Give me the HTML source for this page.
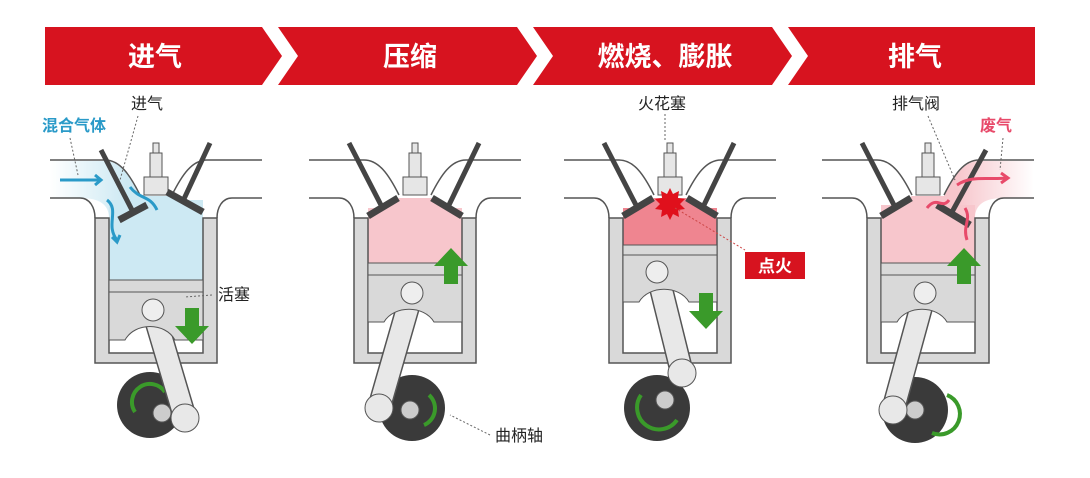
<!DOCTYPE html>
<html><head><meta charset="utf-8"><style>
html,body{margin:0;padding:0;background:#fff;}
svg{display:block;}
text{font-family:"Liberation Sans","Noto Sans CJK SC",sans-serif;}
</style></head><body>
<svg width="1090" height="478" viewBox="0 0 1090 478" xmlns="http://www.w3.org/2000/svg">
<defs>
<linearGradient id="bl" x1="0" x2="1"><stop offset="0" stop-color="#fff"/><stop offset="0.5" stop-color="#cde9f3"/></linearGradient>
<linearGradient id="pk" x1="1" x2="0"><stop offset="0" stop-color="#fff"/><stop offset="0.5" stop-color="#f7c6cc"/></linearGradient>
<g id="head">
 <path d="M-45,160 H10 C25,160 35,175 45,195 M-45,198 H-15 C-5,198 0,208 0,218 M167,160 H112 C97,160 87,175 77,195 M167,198 H137 C127,198 122,208 122,218" fill="none" stroke="#555" stroke-width="1.5"/>
 <path d="M0,218 H14 V353 H108 V218 H122 V363 H0 Z" fill="#d9d9d9" stroke="#555" stroke-width="1.5"/>
 <rect x="58" y="143" width="6" height="10" fill="#e6e6e6" stroke="#555"/>
 <rect x="55" y="153" width="12" height="24" fill="#e6e6e6" stroke="#555"/>
 <rect x="49" y="177" width="24" height="18" fill="#e6e6e6" stroke="#555"/>
</g>
<g id="gdown"><path d="M-7,0 H7 V18 H17 L0,36 L-17,18 H-7 Z" fill="#3a9a2a"/></g>
<g id="gup"><path d="M-7,36 H7 V18 H17 L0,0 L-17,18 H-7 Z" fill="#3a9a2a"/></g>
</defs>

<!-- banner -->
<path d="M45,27 H262 L282,56 L262,85 H45 Z" fill="#d7131f"/>
<path d="M278,27 H517 L537,56 L517,85 H278 L298,56 Z" fill="#d7131f"/>
<path d="M533,27 H772 L792,56 L772,85 H533 L553,56 Z" fill="#d7131f"/>
<path d="M788,27 H1035 V85 H788 L808,56 Z" fill="#d7131f"/>
<g fill="#fff" font-size="27" font-weight="bold" text-anchor="middle">
<text x="155" y="66">进气</text><text x="410" y="66">压缩</text><text x="665" y="66">燃烧、膨胀</text><text x="915" y="66">排气</text>
</g>

<!-- engine 1 -->
<g transform="translate(95,0)">
 <path d="M-45,161 H10 C25,161 35,176 45,196 H77 L108,218 H14 C14,205 5,198 -15,198 H-45 Z" fill="url(#bl)"/>
 <rect x="14" y="200" width="94" height="80" fill="#cde9f3"/>
 <use href="#head"/>
 <circle cx="55" cy="405" r="33" fill="#3a3a3a"/>
 <path d="M40,412 A18,18 0 1 1 70,392" fill="none" stroke="#3a9a2a" stroke-width="4"/>
 <line x1="58" y1="310" x2="90" y2="418" stroke="#555" stroke-width="24" stroke-linecap="round"/>
 <line x1="58" y1="310" x2="90" y2="418" stroke="#e8e8e8" stroke-width="21" stroke-linecap="round"/>
 <rect x="14" y="280" width="94" height="12" fill="#d9d9d9" stroke="#555"/>
 <path d="M14,292 H108 V340 H80 C70,322 40,322 30,340 H14 Z" fill="#d9d9d9" stroke="#555"/>
 <circle cx="58" cy="310" r="11" fill="#eee" stroke="#555"/>
 <circle cx="67" cy="413" r="9" fill="#ccc" stroke="#555"/>
 <circle cx="90" cy="418" r="14" fill="#e8e8e8" stroke="#555"/>
 <line x1="6" y1="150" x2="38" y2="212" stroke="#444" stroke-width="5"/>
 <line x1="24" y1="220" x2="52" y2="205" stroke="#444" stroke-width="7"/>
 <line x1="115" y1="143" x2="88" y2="201" stroke="#444" stroke-width="5"/>
 <line x1="72" y1="192" x2="108" y2="212" stroke="#444" stroke-width="7"/>
 <g stroke="#2a9ac8" stroke-width="3" fill="none">
  <path d="M-35,180 H5"/><path d="M0,175 L6,180 L0,185"/>
  <path d="M12,200 C25,210 10,225 22,240"/><path d="M17,237 L22,242 L25,235"/>
  <path d="M35,187 C45,200 55,195 62,210"/>
 </g>
 <use href="#gdown" x="97" y="308"/>
</g>

<!-- engine 2 -->
<g transform="translate(354,0)">
 <rect x="14" y="208" width="94" height="55" fill="#f7c6cc"/>
 <path d="M14,218 L45,198 H77 L108,218 Z" fill="#f7c6cc"/>
 <use href="#head"/>
 <circle cx="58" cy="408" r="33" fill="#3a3a3a"/>
 <path d="M70,425 A18,18 0 0 0 75,395" fill="none" stroke="#3a9a2a" stroke-width="4"/>
 <line x1="58" y1="293" x2="25" y2="408" stroke="#555" stroke-width="24" stroke-linecap="round"/>
 <line x1="58" y1="293" x2="25" y2="408" stroke="#e8e8e8" stroke-width="21" stroke-linecap="round"/>
 <rect x="14" y="263" width="94" height="12" fill="#d9d9d9" stroke="#555"/>
 <path d="M14,275 H108 V322 H80 C70,305 40,305 30,322 H14 Z" fill="#d9d9d9" stroke="#555"/>
 <circle cx="58" cy="293" r="11" fill="#eee" stroke="#555"/>
 <circle cx="56" cy="410" r="9" fill="#ccc" stroke="#555"/>
 <circle cx="25" cy="408" r="14" fill="#e8e8e8" stroke="#555"/>
 <line x1="-5" y1="143" x2="28" y2="207" stroke="#444" stroke-width="5"/>
 <line x1="14" y1="216" x2="44" y2="198" stroke="#444" stroke-width="7"/>
 <line x1="125" y1="143" x2="94" y2="207" stroke="#444" stroke-width="5"/>
 <line x1="78" y1="198" x2="108" y2="216" stroke="#444" stroke-width="7"/>
 <use href="#gup" x="97" y="248"/>
</g>

<!-- engine 3 -->
<g transform="translate(609,0)">
 <rect x="14" y="208" width="94" height="37" fill="#ef8590"/>
 <path d="M14,218 L45,198 H77 L108,218 Z" fill="#ef8590"/>
 <use href="#head"/>
 <circle cx="48" cy="408" r="33" fill="#3a3a3a"/>
 <path d="M32,395 A18,18 0 0 0 68,420" fill="none" stroke="#3a9a2a" stroke-width="4"/>
 <line x1="48" y1="272" x2="73" y2="373" stroke="#555" stroke-width="24" stroke-linecap="round"/>
 <line x1="48" y1="272" x2="73" y2="373" stroke="#e8e8e8" stroke-width="21" stroke-linecap="round"/>
 <rect x="14" y="245" width="94" height="10" fill="#d9d9d9" stroke="#555"/>
 <path d="M14,255 H108 V302 H80 C70,285 40,285 30,302 H14 Z" fill="#d9d9d9" stroke="#555"/>
 <circle cx="48" cy="272" r="11" fill="#eee" stroke="#555"/>
 <circle cx="56" cy="400" r="9" fill="#ccc" stroke="#555"/>
 <circle cx="73" cy="373" r="14" fill="#e8e8e8" stroke="#555"/>
 <line x1="-5" y1="143" x2="28" y2="207" stroke="#444" stroke-width="5"/>
 <line x1="14" y1="216" x2="44" y2="198" stroke="#444" stroke-width="7"/>
 <line x1="125" y1="143" x2="94" y2="207" stroke="#444" stroke-width="5"/>
 <line x1="78" y1="198" x2="108" y2="216" stroke="#444" stroke-width="7"/>
 <polygon points="61,188 64,194 70,191 69,198 76,199 71,204 76,209 69,210 70,217 64,214 61,220 58,214 52,217 53,210 46,209 51,204 46,199 53,198 52,191 58,194" fill="#e0101c"/>
 <line x1="66" y1="208" x2="136" y2="250" stroke="#c44" stroke-width="1" stroke-dasharray="2,2"/>
 <use href="#gdown" x="97" y="293"/>
</g>

<!-- engine 4 -->
<g transform="translate(867,0)">
 <path d="M167,161 H112 C97,161 87,176 77,196 H45 L14,218 H108 C108,205 117,198 137,198 H167 Z" fill="url(#pk)"/>
 <rect x="14" y="205" width="94" height="58" fill="#f7c6cc"/>
 <use href="#head"/>
 <circle cx="48" cy="410" r="33" fill="#3a3a3a"/>
 <path d="M80,395 A18,18 0 0 1 65,433" fill="none" stroke="#3a9a2a" stroke-width="4"/>
 <line x1="58" y1="293" x2="26" y2="410" stroke="#555" stroke-width="24" stroke-linecap="round"/>
 <line x1="58" y1="293" x2="26" y2="410" stroke="#e8e8e8" stroke-width="21" stroke-linecap="round"/>
 <rect x="14" y="263" width="94" height="12" fill="#d9d9d9" stroke="#555"/>
 <path d="M14,275 H108 V322 H80 C70,305 40,305 30,322 H14 Z" fill="#d9d9d9" stroke="#555"/>
 <circle cx="58" cy="293" r="11" fill="#eee" stroke="#555"/>
 <circle cx="48" cy="410" r="9" fill="#ccc" stroke="#555"/>
 <circle cx="26" cy="410" r="14" fill="#e8e8e8" stroke="#555"/>
 <line x1="-5" y1="143" x2="28" y2="207" stroke="#444" stroke-width="5"/>
 <line x1="14" y1="216" x2="44" y2="198" stroke="#444" stroke-width="7"/>
 <line x1="119" y1="150" x2="85" y2="212" stroke="#444" stroke-width="5"/>
 <line x1="70" y1="205" x2="103" y2="225" stroke="#444" stroke-width="7"/>
 <g stroke="#e84a6a" stroke-width="3" fill="none">
  <path d="M90,185 C105,175 120,180 140,178"/><path d="M134,173 L141,178 L134,183"/>
  <path d="M60,208 C70,195 75,210 82,200"/>
  <path d="M100,240 C95,225 105,220 98,208"/>
 </g>
 <use href="#gup" x="97" y="248"/>
</g>

<!-- labels -->
<g font-size="16" fill="#222">
 <text x="131" y="109">进气</text>
 <text x="218" y="300">活塞</text>
 <text x="638" y="109">火花塞</text>
 <text x="892" y="109">排气阀</text>
 <text x="495" y="441">曲柄轴</text>
</g>
<text x="42" y="131" font-size="16" fill="#2a9ac8" font-weight="bold">混合气体</text>
<text x="980" y="131" font-size="16" fill="#e84a6a" font-weight="bold">废气</text>
<rect x="745" y="252" width="60" height="27" fill="#d7131f"/>
<text x="775" y="272" font-size="17" fill="#fff" font-weight="bold" text-anchor="middle">点火</text>
<g stroke="#666" stroke-width="1" stroke-dasharray="2,2" fill="none">
 <line x1="138" y1="116" x2="120" y2="180"/>
 <line x1="70" y1="138" x2="78" y2="175"/>
 <line x1="212" y1="295" x2="185" y2="297"/>
 <line x1="665" y1="114" x2="665" y2="140"/>
 <line x1="928" y1="116" x2="955" y2="180"/>
 <line x1="1003" y1="138" x2="1000" y2="170"/>
 <line x1="490" y1="435" x2="450" y2="415"/>
</g>
</svg>
</body></html>
